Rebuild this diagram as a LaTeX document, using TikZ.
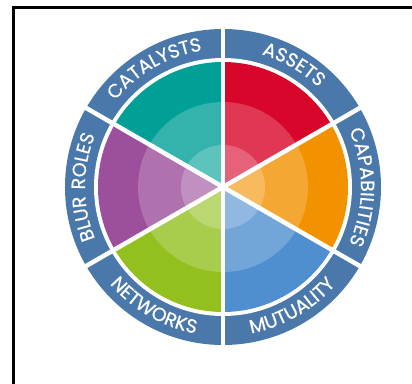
\documentclass[tikz,border=0pt]{standalone}
\usepackage{fontspec}
\setmainfont{Poppins}
\newfontfamily\ringfont[LetterSpace=6,FakeBold=0.6]{Poppins}
\usetikzlibrary{positioning,decorations.text}
\definecolor{ringblue}{HTML}{4A78AA}
\definecolor{assetred}{HTML}{D9062B}
\definecolor{capaorange}{HTML}{F39200}
\definecolor{mutublue}{HTML}{4F8FCF}
\definecolor{netgreen}{HTML}{93C01F}
\definecolor{blurpurple}{HTML}{9C4F9B}
\definecolor{catteal}{HTML}{00A096}

\begin{document}
\begin{tikzpicture}[x=1pt,y=1pt,
    spoke/.style={white, line width=4.5pt},
    ringlabel/.style={decorate, decoration={text along path, text align=center,
        text={|\ringfont\fontsize{19}{19}\selectfont\color{white}|#1}}}]
        \clip (-223,-196) rectangle (189,187);
        \draw[line width=3pt] (-209,-200) -- (-209,179) -- (200,179);
        \fill[ringblue] (0,0) circle (158);
        \fill[white] (0,0) circle (129);
        \foreach \a/\c in {30/assetred, -30/capaorange, -90/mutublue, -150/netgreen, 150/blurpurple, 90/catteal} {
            \fill[\c] (0,0) -- (\a:125) arc (\a:\a+60:125) -- cycle;
        }
        \fill[white, opacity=0.2] (0,0) circle (85);
        \fill[white, opacity=0.22] (0,0) circle (42);
        \foreach \a in {30,90,...,330} {
            \draw[spoke] (0,0) -- (\a:162);
        }

        \path[ringlabel=ASSETS] (100:138) arc (100:20:138);
        \path[ringlabel=CATALYSTS] (160:138) arc (160:80:138);
        \path[ringlabel=CAPABILITIES] (40:138) arc (40:-40:138);
        \path[ringlabel=BLUR ROLES] (220:138) arc (220:140:138);
        \path[ringlabel=NETWORKS] (-160:149) arc (-160:-80:149);
        \path[ringlabel=MUTUALITY] (-100:149) arc (-100:-20:149);
    \end{tikzpicture}
\end{document}
